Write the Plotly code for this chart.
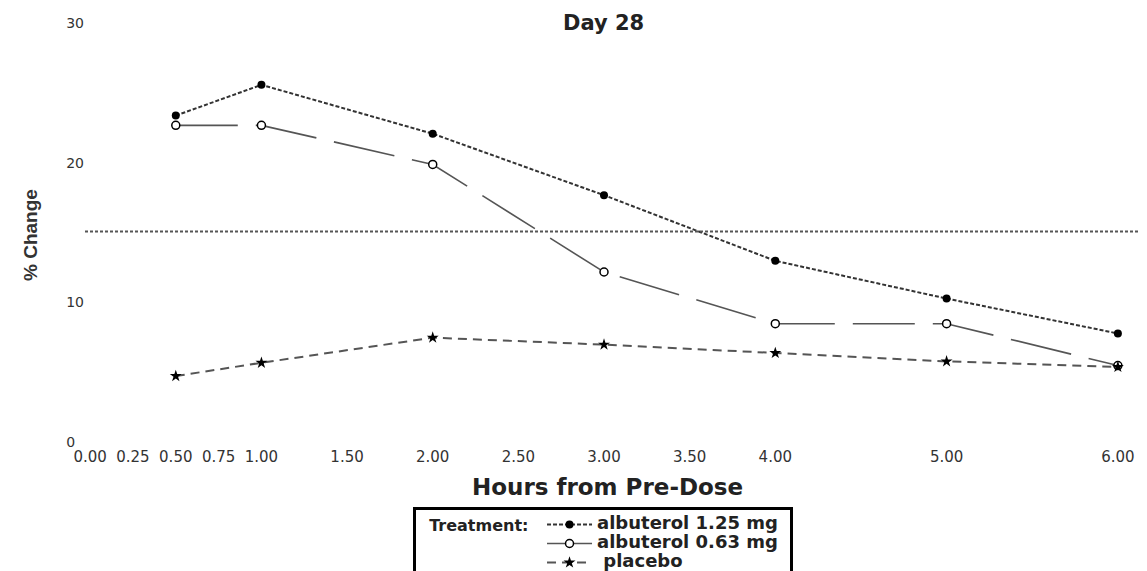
import plotly.graph_objects as go

hours = [0.5, 1.0, 2.0, 3.0, 4.0, 5.0, 6.0]
alb_125 = [23.3, 25.5, 22.0, 17.6, 12.9, 10.2, 7.7]
alb_063 = [22.6, 22.6, 19.8, 12.1, 8.4, 8.4, 5.4]
placebo = [4.65, 5.6, 7.4, 6.9, 6.3, 5.7, 5.3]
ref_level = 15.0

x_ticks = [0.0, 0.25, 0.5, 0.75, 1.0, 1.5, 2.0, 2.5, 3.0, 3.5, 4.0, 5.0, 6.0]
x_ticktext = ["0.00", "0.25", "0.50", "0.75", "1.00", "1.50", "2.00", "2.50",
              "3.00", "3.50", "4.00", "5.00", "6.00"]
y_ticks = [0, 10, 20, 30]
y_ticktext = ["0\u00a0\u00a0", "10", "20", "30"]

names = ["albuterol 1.25 mg", "albuterol 0.63 mg", "\u00a0placebo"]

def lname(s):
    return "<b><span style='font-size:18px'>" + s + "\u00a0</span></b>"

fig = go.Figure()
fig.add_trace(go.Scatter(
    x=hours, y=alb_125, name=lname(names[0]), mode="lines+markers",
    line=dict(color="#333333", width=2, dash="4px,2px"),
    marker=dict(symbol="circle", size=8, color="black"),
))
fig.add_trace(go.Scatter(
    x=hours, y=alb_063, name=lname(names[1]), mode="lines+markers",
    line=dict(color="#555555", width=1.6, dash="62px,18px"),
    marker=dict(symbol="circle", size=8, color="white",
                line=dict(color="black", width=1.5)),
))
fig.add_trace(go.Scatter(
    x=hours, y=placebo, name=lname(names[2]), mode="lines+markers",
    line=dict(color="#555555", width=2, dash="9px,6px"),
    marker=dict(symbol="star", size=9, color="black"),
))

fig.add_shape(type="line", xref="paper", yref="y", x0=0, x1=1,
              y0=ref_level, y1=ref_level,
              line=dict(color="#555555", width=2, dash="3px,2px"))

xtickfont = dict(family="DejaVu Sans", size=15, color="#333333")
ytickfont = dict(family="DejaVu Sans", size=14, color="#333333")

# page body adds an 8px offset, so the figure is sized to the remaining area
fig.update_layout(
    width=1139, height=563,
    margin=dict(l=77, r=0, t=14, b=130, autoexpand=False),
    paper_bgcolor="white", plot_bgcolor="white",
    showlegend=True,
    xaxis=dict(range=[-0.03, 6.17], tickvals=x_ticks, ticktext=x_ticktext,
               showgrid=False, zeroline=False, showline=False, ticks="",
               tickfont=xtickfont, ticklabelstandoff=5),
    yaxis=dict(range=[0, 30], tickvals=y_ticks, ticktext=y_ticktext,
               showgrid=False, zeroline=False, showline=False, ticks="",
               tickfont=ytickfont, ticklabelshift=1),
    legend=dict(
        x=(413 - 85) / 1062, y=(441 - 507) / 419, xanchor="left", yanchor="top",
        xref="paper", yref="paper",
        bordercolor="black", borderwidth=3, bgcolor="white",
        font=dict(family="DejaVu Sans", size=12, color="#222222"),
        itemwidth=45,
        title=dict(text="<b>\u00a0\u00a0Treatment:\u00a0</b>", side="left",
                   font=dict(family="DejaVu Sans", size=16, color="#222222")),
    ),
    annotations=[
        dict(text="<b>Day 28</b>", xref="paper", yref="paper",
             x=(603 - 85) / 1062, y=(441 - 23) / 419, xanchor="center",
             yanchor="middle", showarrow=False,
             font=dict(family="DejaVu Sans", size=21, color="#222222")),
        dict(text="<b>Hours from Pre-Dose</b>", xref="paper", yref="paper",
             x=(607 - 85) / 1062, y=(441 - 487) / 419, xanchor="center",
             yanchor="middle", showarrow=False,
             font=dict(family="DejaVu Sans", size=23, color="#222222")),
        dict(text="<b>% Change</b>", xref="paper", yref="paper",
             x=(30 - 85) / 1062, y=(441 - 235) / 419, xanchor="center",
             yanchor="middle", showarrow=False, textangle=-90,
             font=dict(family="Liberation Sans", size=19, color="#333333")),
    ],
)

fig.write_html("out.html")
